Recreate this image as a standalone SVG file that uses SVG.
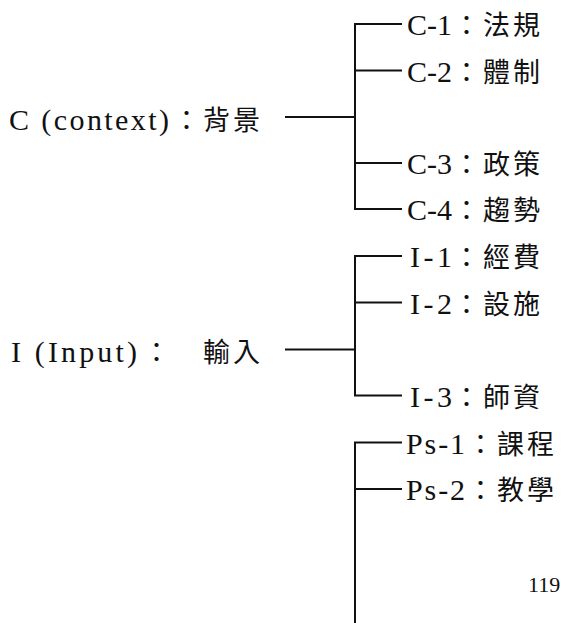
<svg xmlns="http://www.w3.org/2000/svg" width="569" height="623" viewBox="0 0 569 623">
<style>
text{font-family:"Liberation Serif","Times New Roman",serif;font-size:30px;fill:#111}
.cjk{font-family:"Noto Sans CJK TC","Noto Sans CJK SC",sans-serif;font-size:27px;letter-spacing:3px}
.pg{font-family:"Liberation Serif","Times New Roman",serif;font-size:22px}
.c line{stroke:#111;stroke-width:2;fill:none}
</style>
<rect width="569" height="623" fill="#fff"/>
<g id="connectors" class="c">
<line x1="355" y1="24" x2="355" y2="209.5"/>
<line x1="285" y1="117" x2="355" y2="117"/>
<line x1="354" y1="24" x2="402" y2="24"/>
<line x1="354" y1="70.5" x2="402" y2="70.5"/>
<line x1="354" y1="163" x2="402" y2="163"/>
<line x1="354" y1="209" x2="402" y2="209"/>
<line x1="355" y1="256" x2="355" y2="396"/>
<line x1="285" y1="349.5" x2="355" y2="349.5"/>
<line x1="354" y1="256" x2="402" y2="256"/>
<line x1="354" y1="302.5" x2="402" y2="302.5"/>
<line x1="354" y1="395.5" x2="402" y2="395.5"/>
<line x1="355" y1="442.5" x2="355" y2="623"/>
<line x1="354" y1="442.5" x2="402" y2="442.5"/>
<line x1="354" y1="489" x2="402" y2="489"/>
</g>
<g id="C"><text y="130"><tspan x="9" textLength="160" lengthAdjust="spacing">C (context)</tspan><tspan class="cjk" x="173">：背景</tspan></text></g>
<g id="C1"><text y="35"><tspan x="407" textLength="45" lengthAdjust="spacing">C-1</tspan><tspan class="cjk" x="453">：法規</tspan></text></g>
<g id="C2"><text y="81.5"><tspan x="407" textLength="45" lengthAdjust="spacing">C-2</tspan><tspan class="cjk" x="453">：體制</tspan></text></g>
<g id="C3"><text y="174"><tspan x="407" textLength="45" lengthAdjust="spacing">C-3</tspan><tspan class="cjk" x="453">：政策</tspan></text></g>
<g id="C4"><text y="220"><tspan x="407" textLength="45" lengthAdjust="spacing">C-4</tspan><tspan class="cjk" x="453">：趨勢</tspan></text></g>
<g id="I"><text y="362"><tspan x="11" textLength="126" lengthAdjust="spacing">I (Input)</tspan><tspan class="cjk" x="143">：</tspan><tspan class="cjk" x="203">輸入</tspan></text></g>
<g id="I1"><text y="267"><tspan x="410" textLength="42" lengthAdjust="spacing">I-1</tspan><tspan class="cjk" x="453">：經費</tspan></text></g>
<g id="I2"><text y="313.5"><tspan x="410" textLength="42" lengthAdjust="spacing">I-2</tspan><tspan class="cjk" x="453">：設施</tspan></text></g>
<g id="I3"><text y="406.5"><tspan x="410" textLength="42" lengthAdjust="spacing">I-3</tspan><tspan class="cjk" x="453">：師資</tspan></text></g>
<g id="Ps1"><text y="453.5"><tspan x="406" textLength="59" lengthAdjust="spacing">Ps-1</tspan><tspan class="cjk" x="467">：課程</tspan></text></g>
<g id="Ps2"><text y="500"><tspan x="406" textLength="59" lengthAdjust="spacing">Ps-2</tspan><tspan class="cjk" x="467">：教學</tspan></text></g>
<text class="pg" x="528" y="592">119</text>
</svg>
